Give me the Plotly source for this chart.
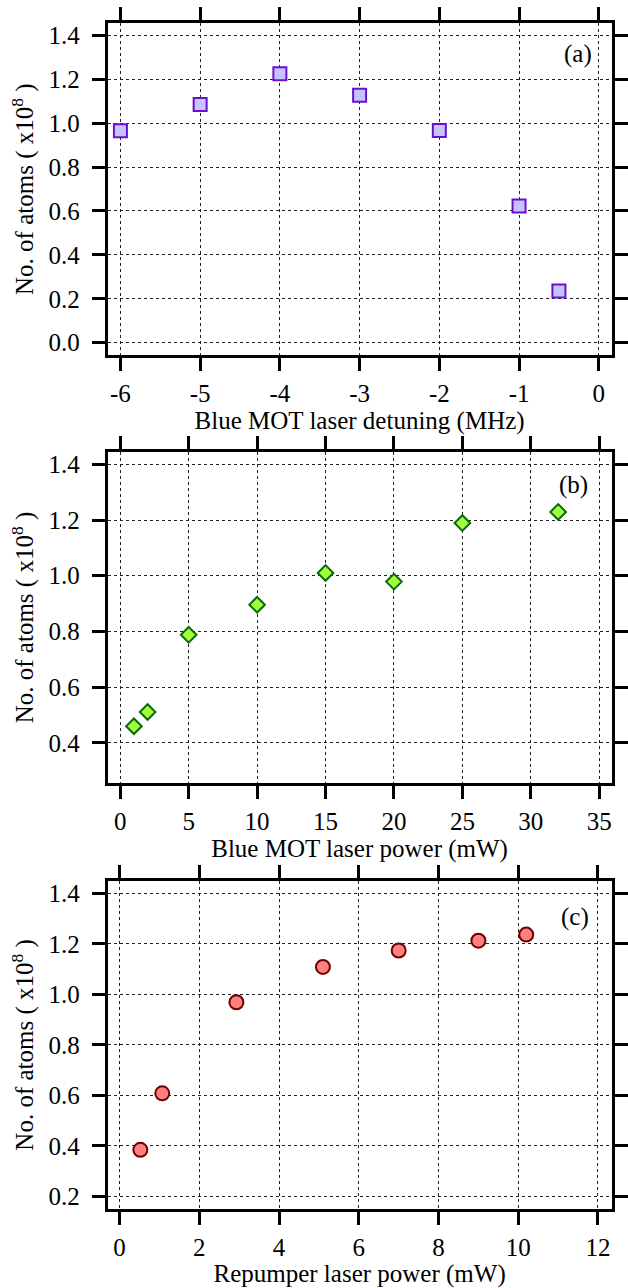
import plotly.graph_objects as go

# ---- data ----
a_x = [-6, -5, -4, -3, -2, -1, -0.5]
a_y = [0.965, 1.085, 1.225, 1.127, 0.966, 0.622, 0.236]

b_x = [1, 2, 5, 10, 15, 20, 25, 32]
b_y = [0.46, 0.511, 0.788, 0.896, 1.010, 0.979, 1.189, 1.229]

c_x = [0.52, 1.07, 2.93, 5.1, 7.0, 9.0, 10.2]
c_y = [0.384, 0.608, 0.969, 1.109, 1.174, 1.213, 1.237]

a_xticks = [-6, -5, -4, -3, -2, -1, 0]
a_xticktext = ["-6", "-5", "-4", "-3", "-2", "-1", "0"]
b_xticks = [0, 5, 10, 15, 20, 25, 30, 35]
c_xticks = [0, 2, 4, 6, 8, 10, 12]

a_yticks = [0.0, 0.2, 0.4, 0.6, 0.8, 1.0, 1.2, 1.4]
b_yticks = [0.4, 0.6, 0.8, 1.0, 1.2, 1.4]
c_yticks = [0.2, 0.4, 0.6, 0.8, 1.0, 1.2, 1.4]

x_titles = ["Blue MOT laser detuning (MHz)", "Blue MOT laser power (mW)", "Repumper laser power (mW)"]
y_title = "No. of atoms ( x10<sup>8</sup> )"
panel_labels = ["(a)", "(b)", "(c)"]

FONT = "Liberation Serif, Times New Roman, serif"
H = 1288.0
W = 628.0

fig = go.Figure()

fig.add_trace(go.Scatter(x=a_x, y=a_y, mode="markers", xaxis="x", yaxis="y",
                         marker=dict(symbol="square", size=13, color="#c4c4ff",
                                     line=dict(color="#6a0fd0", width=2)),
                         showlegend=False))
fig.add_trace(go.Scatter(x=b_x, y=b_y, mode="markers", xaxis="x2", yaxis="y2",
                         marker=dict(symbol="diamond", size=12, color="#a2ff3c",
                                     line=dict(color="#0b6a0b", width=2)),
                         showlegend=False))
fig.add_trace(go.Scatter(x=c_x, y=c_y, mode="markers", xaxis="x3", yaxis="y3",
                         marker=dict(symbol="circle", size=14, color="#ff8080",
                                     line=dict(color="#700000", width=2)),
                         showlegend=False))

xdom = [108 / W, 613.5 / W]
ydoms = [[1 - 355 / H, 1 - 22 / H], [1 - 783 / H, 1 - 452 / H], [1 - 1210 / H, 1 - 881 / H]]

common = dict(showline=True, linewidth=3, linecolor="black", mirror="ticks",
              ticks="outside", ticklen=13, tickwidth=3, tickcolor="black",
              showgrid=True, gridcolor="#222222", griddash="dot", gridwidth=1,
              zeroline=False, tickfont=dict(family=FONT, size=25, color="black"))

xranges = [[-6.16, 0.16], [-0.92, 35.9], [-0.3, 12.34]]
yranges = [[-0.058, 1.456], [0.257, 1.443], [0.149, 1.451]]
xtickvals = [a_xticks, b_xticks, c_xticks]
xticktexts = [a_xticktext, [str(v) for v in b_xticks], [str(v) for v in c_xticks]]
ytickvals = [a_yticks, b_yticks, c_yticks]

layout = dict(width=628, height=1288, margin=dict(l=0, r=0, t=0, b=0),
              paper_bgcolor="white", plot_bgcolor="white",
              font=dict(family=FONT, color="black"))
for i in range(3):
    sfx = "" if i == 0 else str(i + 1)
    layout["xaxis" + sfx] = dict(common, domain=xdom, range=xranges[i],
                                 anchor="y" + sfx, tickmode="array",
                                 tickvals=xtickvals[i], ticktext=xticktexts[i],
                                 ticklabelstandoff=1,
                                 title=dict(text=x_titles[i], standoff=2,
                                            font=dict(family=FONT, size=25)))
    layout["yaxis" + sfx] = dict(common, domain=ydoms[i], range=yranges[i],
                                 anchor="x" + sfx, tickmode="array",
                                 tickvals=ytickvals[i],
                                 ticktext=["%.1f" % v for v in ytickvals[i]],
                                 ticklabelstandoff=7,
                                 title=dict(text=y_title, standoff=8,
                                            font=dict(family=FONT, size=25)))

fig.update_layout(**layout)

label_pos = [(580, 53), (575, 485), (577, 917)]
for i, lab in enumerate(panel_labels):
    fig.add_annotation(text=lab, xref="paper", yref="paper",
                       x=label_pos[i][0] / W, y=1 - label_pos[i][1] / H,
                       xanchor="center", yanchor="middle", showarrow=False,
                       font=dict(family=FONT, size=25, color="black"))

fig.write_html("out.html")
